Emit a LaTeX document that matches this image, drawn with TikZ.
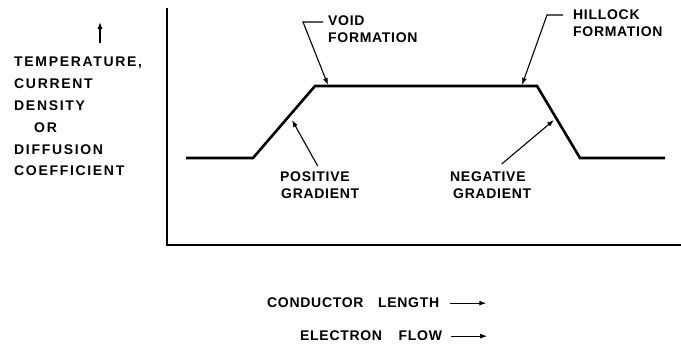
\documentclass[tikz,border=0pt]{standalone}
\usepackage{fontspec}
\usetikzlibrary{positioning,calc,arrows.meta}
\newfontfamily\lettering{Liberation Sans}[LetterSpace=12]
\newfontfamily\callletter{Liberation Sans}[LetterSpace=5]
\tikzset{
  axisline/.style={line width=1.4pt},
  profile/.style={line width=2.6pt,line join=miter},
  leader/.style={line width=1.1pt},
  pointer/.style={leader,-{Latex[length=7pt,width=5pt]}},
  lbl/.style={font=\lettering\bfseries\fontsize{14}{17}\selectfont,inner sep=0pt,align=left},
  calllbl/.style={lbl,font=\callletter\bfseries\fontsize{14}{17}\selectfont},
  axislbl/.style={lbl,font=\lettering\bfseries\fontsize{14}{21.8}\selectfont},
}
\begin{document}
\begin{tikzpicture}[x=1pt,y=-1pt]
  \useasboundingbox (0,0) rectangle (681,346);
  % axes
  \coordinate (top) at (167,8);
  \coordinate (origin) at (167,245);
  \coordinate (right) at (681,245);
  \draw[axisline] (top) -- (origin) -- (right);
  % profile along the conductor
  \coordinate (a) at (186,158); \coordinate (b) at (253,158);
  \coordinate (c) at (315,86);  \coordinate (d) at (537,86);
  \coordinate (e) at (580,158); \coordinate (f) at (665,158);
  \draw[profile] (a) -- (b) -- (c) -- (d) -- (e) -- (f);
  % vertical axis label
  \node[axislbl,anchor=north west] (ylab) at (14,57) {TEMPERATURE,\\CURRENT\\DENSITY\\\hspace*{20pt}OR\\DIFFUSION\\COEFFICIENT};
  \coordinate (ytail) at (100,43); \coordinate (ytip) at (100,22);
  \draw[pointer] (ytail) -- (ytip);
  % callouts on the plateau
  \node[calllbl,anchor=north west] (voidlab) at (328,16) {VOID\\FORMATION};
  \coordinate (voidknee) at (303,22); \coordinate (voidtip) at (328,85);
  \draw[pointer] (voidlab.north west |- voidknee) ++(-5,0) -- (voidknee) -- (voidtip);
  \node[calllbl,anchor=north west] (hillab) at (573,10) {HILLOCK\\FORMATION};
  \coordinate (hilknee) at (547,15); \coordinate (hiltip) at (522,85);
  \draw[pointer] (hillab.north west |- hilknee) ++(-10,0) -- (hilknee) -- (hiltip);
  % callouts on the slopes
  \node[calllbl,anchor=north west] (poslab) at (280,172) {POSITIVE\\\hspace*{1pt}GRADIENT};
  \coordinate (postip) at (292,120);
  \draw[pointer] ([xshift=-2pt,yshift=6pt]poslab.north) -- (postip);
  \node[calllbl,anchor=north west] (neglab) at (450,172) {NEGATIVE\\\hspace*{3pt}GRADIENT};
  \coordinate (negtip) at (554,120);
  \draw[pointer] ([xshift=11pt,yshift=8pt]neglab.north) -- (negtip);
  % horizontal axis labels
  \node[calllbl,anchor=north west] (lenlab) at (267,298) {CONDUCTOR\hspace{10pt} LENGTH};
  \coordinate (lenend) at ([xshift=47pt]lenlab.east);
  \draw[pointer] ([xshift=11pt]lenlab.east) -- (lenend);
  \node[calllbl,anchor=north west] (flowlab) at (300,331) {ELECTRON\hspace{12pt} FLOW};
  \coordinate (flowend) at ([xshift=45pt]flowlab.east);
  \draw[pointer] ([xshift=9pt]flowlab.east) -- (flowend);
\end{tikzpicture}
\end{document}
